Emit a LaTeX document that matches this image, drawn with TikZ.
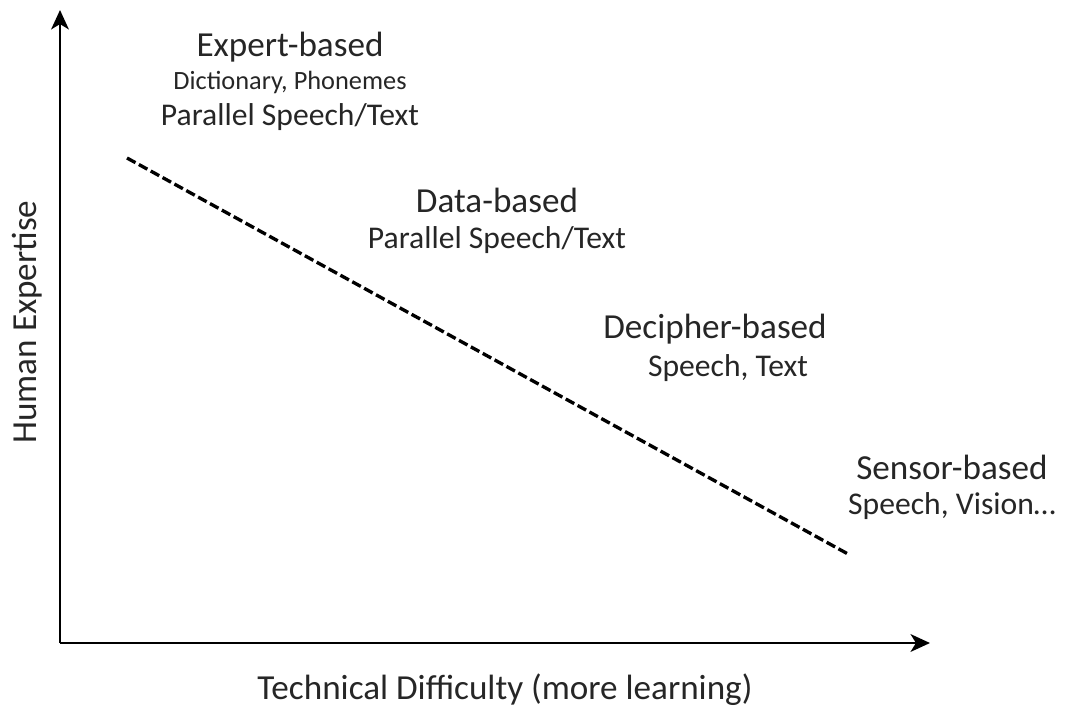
\documentclass[tikz,border=0pt]{standalone}
\usepackage{fontspec}
\setmainfont{Carlito}
\usetikzlibrary{positioning}
\usetikzlibrary{arrows.meta}

\begin{document}
\begin{tikzpicture}[>={Stealth[length=11pt,width=10pt,inset=3pt]},x=0.02cm,y=-0.02cm,font=\fontsize{18}{21}\selectfont,
	axis/.style={->,line width=1.7pt,black},
	title/.style={inner sep=0pt,text=black!85,font=\fontsize{20}{24}\selectfont},
	sub/.style={inner sep=0pt,text=black!85}]
	\useasboundingbox (0,0) rectangle (1065,713);

	\coordinate (origin) at (60,643);
	\coordinate (ytop) at (60,10);
	\coordinate (xend) at (930,643);
	\draw[axis] (origin) -- (ytop);
	\draw[axis] (origin) -- (xend);

	\node [sub,font=\fontsize{20}{24}\selectfont] at (505,690) (xlabel) {Technical Difficulty (more learning)};
	\node [sub,rotate=90,font=\fontsize{20}{24}\selectfont] at (27,322) (ylabel) {Human Expertise};

	\coordinate (trend_start) at (127,158);
	\coordinate (trend_end) at (848,554);
	\draw[line width=1.9pt,dash pattern=on 5.5pt off 2.2pt] (trend_start) -- (trend_end);

	\node [title] at (290,47) (expert) {Expert-based};
	\node [sub,font=\fontsize{15}{18}\selectfont] at (290,82) (expert_a) {Dictionary, Phonemes};
	\node [sub] at (290,117) (expert_b) {Parallel Speech/Text};

	\node [title] at (497,200) (data) {Data-based};
	\node [sub] at (497,240) (data_a) {Parallel Speech/Text};

	\node [title] at (715,329) (decipher) {Decipher-based};
	\node [sub] at (728,368) (decipher_a) {Speech, Text};

	\node [title] at (952,467) (sensor) {Sensor-based};
	\node [sub] at (952,506) (sensor_a) {Speech, Vision\dots};
\end{tikzpicture}
\end{document}
